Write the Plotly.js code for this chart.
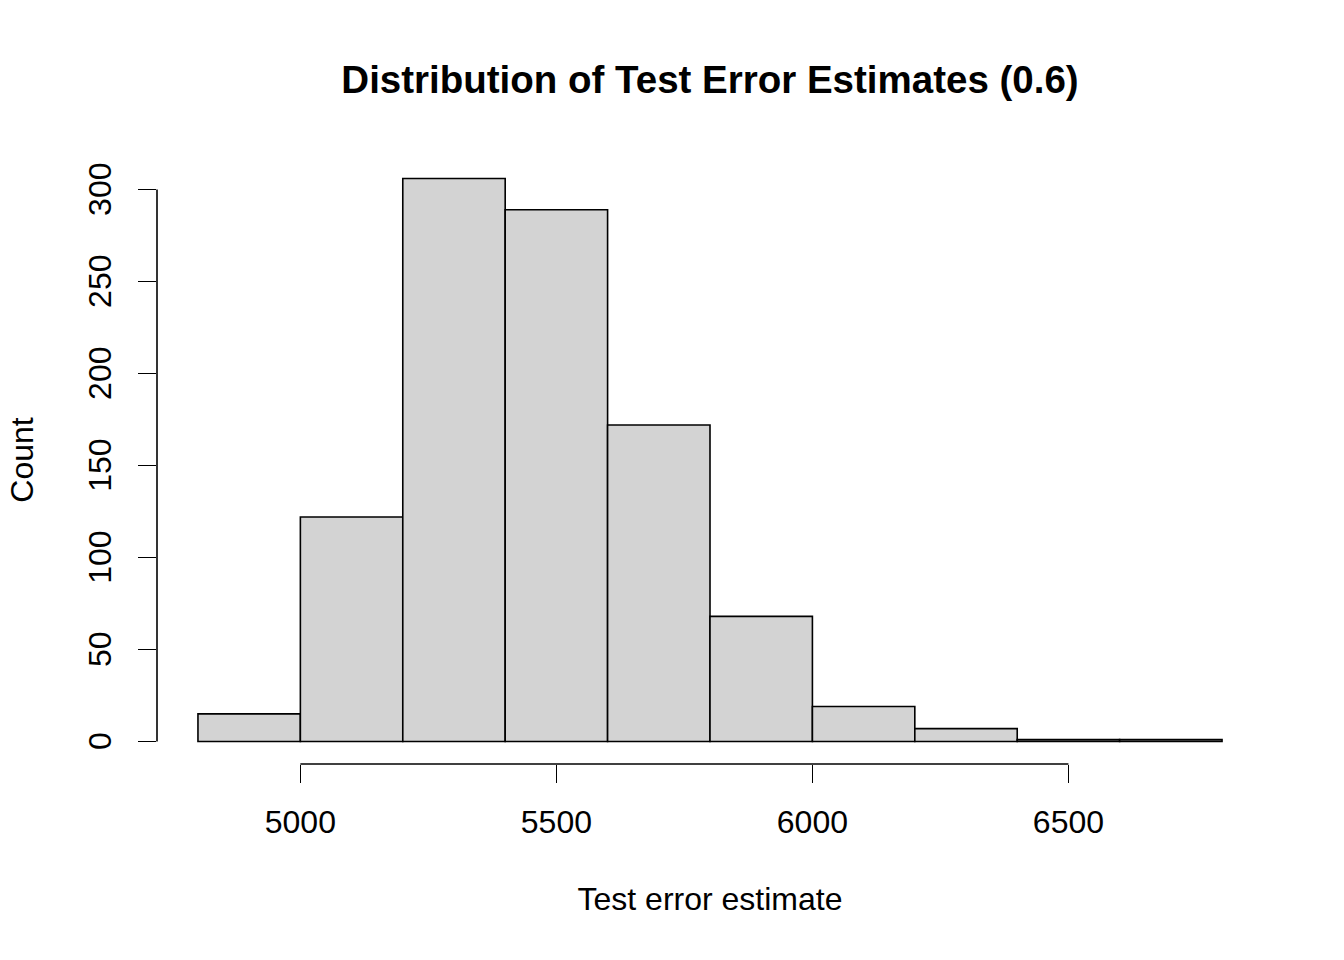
<!DOCTYPE html>
<html>
<head>
<meta charset="utf-8">
<script src="https://cdn.plot.ly/plotly-3.0.1.min.js"></script>
<style>html,body{margin:0;padding:0;background:#fff;}#chart{width:1344px;height:960px;}</style>
</head>
<body>
<div id="chart"></div>
<script>
const breaks = [4800, 5000, 5200, 5400, 5600, 5800, 6000, 6200, 6400, 6600, 6800];
const counts = [15, 122, 306, 289, 172, 68, 19, 7, 1, 1];
const xTicks = [5000, 5500, 6000, 6500];
const yTicks = [0, 50, 100, 150, 200, 250, 300];

const mids = counts.map((c, i) => (breaks[i] + breaks[i + 1]) / 2);
const widths = counts.map((c, i) => breaks[i + 1] - breaks[i]);

const xr = [breaks[0], breaks[breaks.length - 1]];
const xpad = (xr[1] - xr[0]) * 0.04;
const ymax = Math.max(...counts);
const ypad = ymax * 0.04;

const font = "'Liberation Sans', Arial, Helvetica, sans-serif";
const fs = 32;

const trace = {
  type: 'bar',
  x: mids,
  y: counts,
  width: widths,
  marker: { color: '#D3D3D3', line: { color: '#000', width: 1.6 } },
  hoverinfo: 'x+y'
};

const layout = {
  width: 1344, height: 960,
  paper_bgcolor: '#fff', plot_bgcolor: '#fff',
  margin: { l: 157, r: 81, t: 156, b: 196 },
  font: { family: font, size: fs, color: '#000' },
  showlegend: false,
  bargap: 0,
  title: {
    text: '<b>Distribution of Test Error Estimates (0.6)</b>',
    font: { family: font, size: 38.5, color: '#000' },
    x: 0.5, xref: 'paper', xanchor: 'center',
    y: 1 - 80 / 960, yref: 'container', yanchor: 'middle'
  },
  xaxis: {
    range: [xr[0] - xpad, xr[1] + xpad],
    showgrid: false, zeroline: false, showline: false,
    tickmode: 'array', tickvals: xTicks, ticktext: xTicks.map(String),
    ticks: 'outside', ticklen: 18, tickwidth: 1.6, tickcolor: '#000',
    ticklabelstandoff: 12,
    tickfont: { family: font, size: fs, color: '#000' },
    title: { text: 'Test error estimate', font: { family: font, size: fs, color: '#000' }, standoff: 48 }
  },
  yaxis: {
    range: [-ypad, ymax + ypad],
    showgrid: false, zeroline: false, showline: false,
    tickmode: 'array', tickvals: yTicks, ticktext: yTicks.map(v => String(v) + '\u00a0'),
    tickangle: -90,
    ticks: 'outside', ticklen: 18, tickwidth: 1.6, tickcolor: '#000',
    ticklabelstandoff: 14,
    tickfont: { family: font, size: fs, color: '#000' },
    title: { text: 'Count', font: { family: font, size: fs, color: '#000' }, standoff: 39 }
  },
  shapes: [
    { type: 'line', xref: 'x', yref: 'paper', x0: xTicks[0], x1: xTicks[xTicks.length - 1], y0: 0, y1: 0,
      line: { color: '#000', width: 1.6 } },
    { type: 'line', xref: 'paper', yref: 'y', x0: 0, x1: 0, y0: yTicks[0], y1: yTicks[yTicks.length - 1],
      line: { color: '#000', width: 1.6 } }
  ]
};

Plotly.newPlot('chart', [trace], layout, { displayModeBar: false, staticPlot: true });
</script>
</body>
</html>
